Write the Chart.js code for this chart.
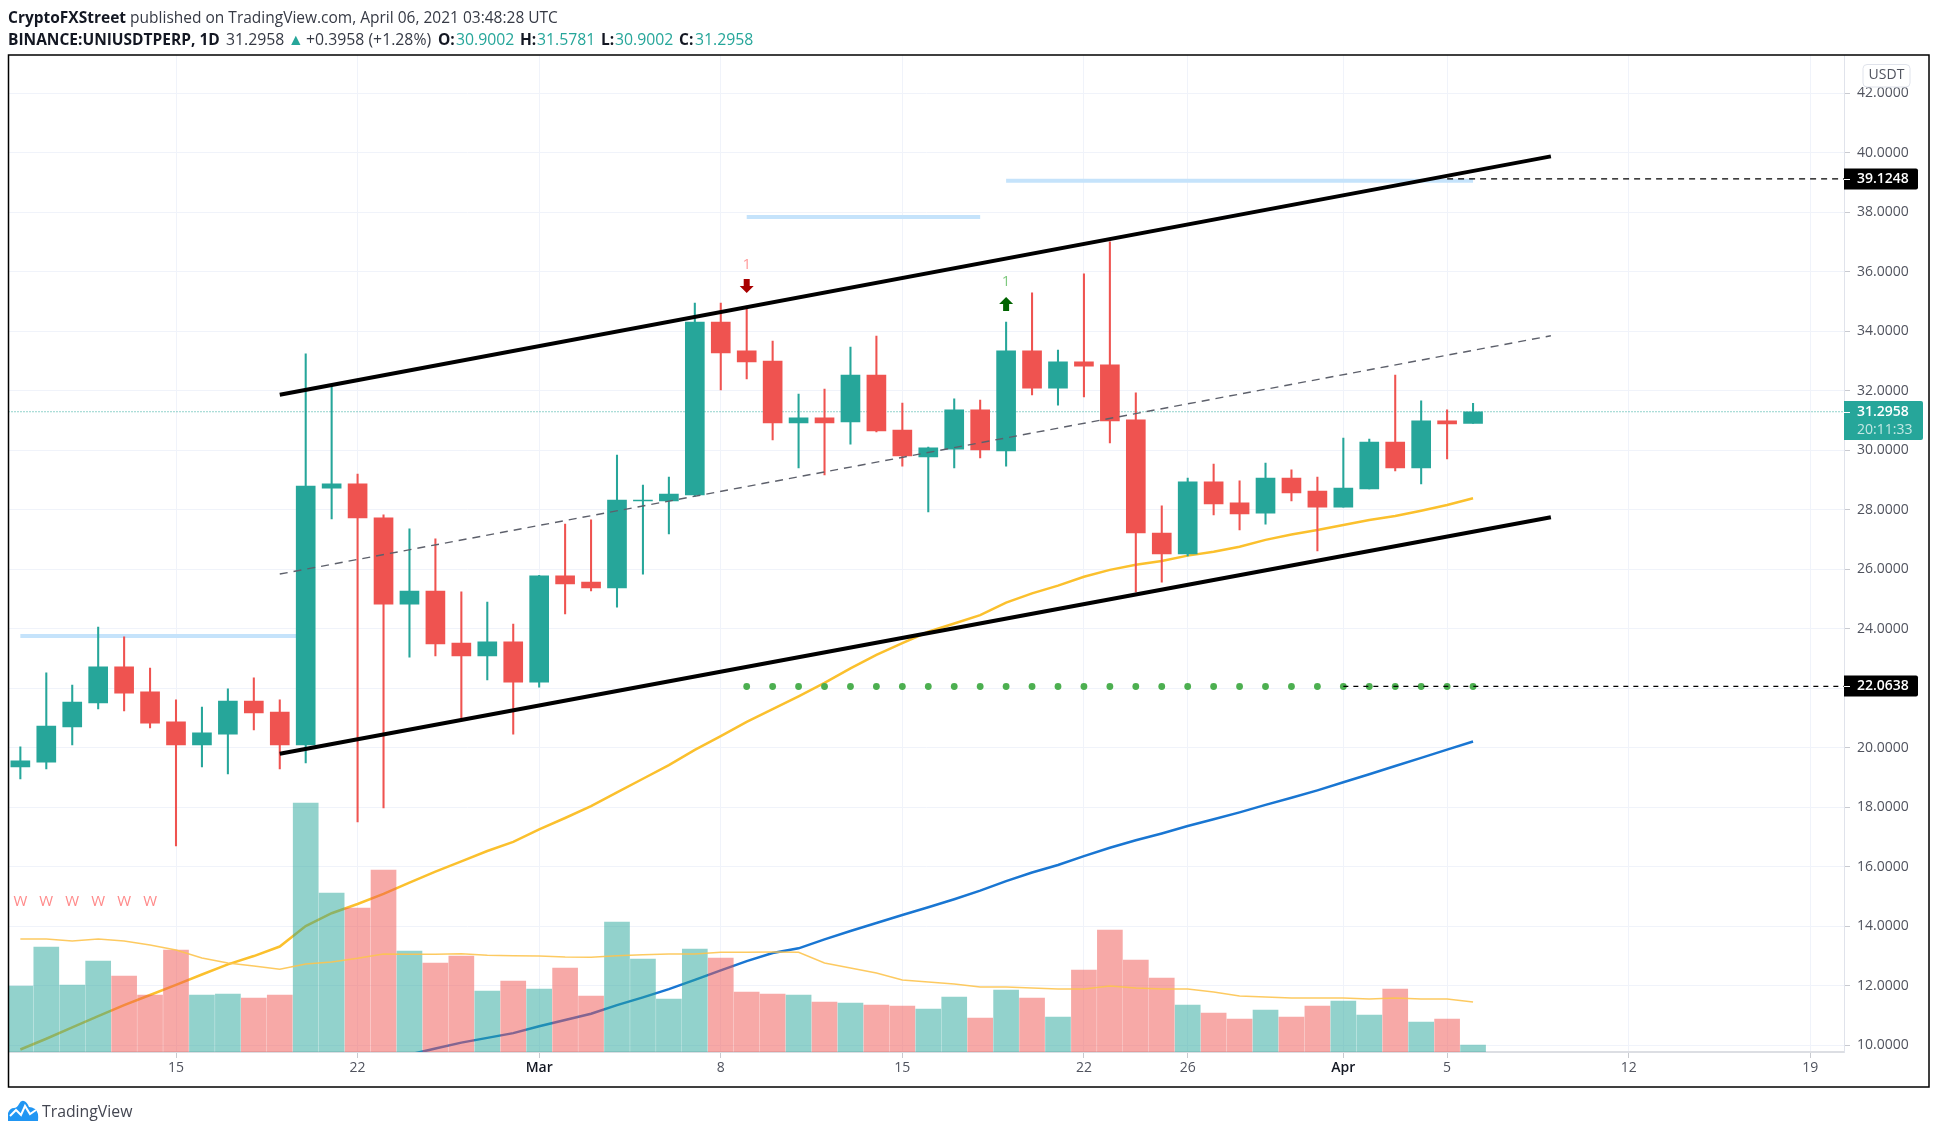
<!DOCTYPE html>
<html>
<head>
<meta charset="utf-8">
<script src="https://cdn.jsdelivr.net/npm/chart.js@4/dist/chart.umd.min.js"></script>
<style>
  html, body { margin: 0; padding: 0; background: #fff; width: 1938px; height: 1134px; overflow: hidden; }
  body { font-family: "Open Sans", sans-serif; color: #131722; position: relative; }
  canvas { position: absolute; left: 0; top: 0; }
  .head { position: absolute; left: 8px; font-size: 15.5px; white-space: nowrap; line-height: 20px; color: #363a45; }
  .head b { font-weight: 700; color: #131722; }
  .row span { position: absolute; top: 0; font-size: 15.8px; }
  .row span.up { color: #26a69a; }
  .row span.lab { font-size: 15.5px; font-weight: 700; color: #131722; }
  #brand { position: absolute; left: 42px; top: 1100px; font-size: 15.8px; line-height: 22px; color: #434651; }
  #logo { position: absolute; left: 8px; top: 1100px; }
</style>
</head>
<body>
<canvas id="myChart" width="1938" height="1134"></canvas>
<div class="head" style="top:7px"><b>CryptoFXStreet</b> published on TradingView.com, April 06, 2021 03:48:28 UTC</div>
<div class="head row" style="top:29px;left:0">
  <span class="lab" style="left:8px">BINANCE:UNIUSDTPERP, 1D</span>
  <span style="left:226px">31.2958</span><span class="up" style="left:288px">▲</span>
  <span style="left:306px">+0.3958 (+1.28%)</span>
  <span class="lab" style="left:438px">O:</span><span class="up" style="left:456px">30.9002</span>
  <span class="lab" style="left:520px">H:</span><span class="up" style="left:537px">31.5781</span>
  <span class="lab" style="left:601px">L:</span><span class="up" style="left:615px">30.9002</span>
  <span class="lab" style="left:679px">C:</span><span class="up" style="left:695px">31.2958</span>
</div>
<svg id="logo" width="31" height="21" viewBox="0 0 31 21">
  <path d="M0 21 L0 13 Q2 8 6 8 Q9 8 11 4 Q13 0 16 1 Q19 2 21 7 Q24 7 27 9 Q31 12 30 21 Z" fill="#2196f3"/>
  <path d="M2 16 L8 10 L13 15 L17 6 L22 14 L28 10" fill="none" stroke="#fff" stroke-width="2"/>
</svg>
<div id="brand">TradingView</div>
<script>
// Daily bars, Feb 9 to Apr 6 2021
const dates = ['Feb 9','Feb 10','Feb 11','Feb 12','Feb 13','Feb 14','Feb 15','Feb 16','Feb 17','Feb 18','Feb 19','Feb 20','Feb 21','Feb 22','Feb 23','Feb 24','Feb 25','Feb 26','Feb 27','Feb 28',
  'Mar 1','Mar 2','Mar 3','Mar 4','Mar 5','Mar 6','Mar 7','Mar 8','Mar 9','Mar 10','Mar 11','Mar 12','Mar 13','Mar 14','Mar 15','Mar 16','Mar 17','Mar 18','Mar 19','Mar 20','Mar 21','Mar 22','Mar 23','Mar 24','Mar 25','Mar 26','Mar 27','Mar 28','Mar 29','Mar 30','Mar 31',
  'Apr 1','Apr 2','Apr 3','Apr 4','Apr 5','Apr 6'];
const opens = [19.36,19.52,20.70,21.51,22.72,21.88,20.87,20.10,20.46,21.57,21.20,20.10,28.73,28.87,27.73,24.83,25.27,23.52,23.09,23.56,
  22.21,25.78,25.57,25.37,28.30,28.30,28.50,34.31,33.34,33.00,30.92,31.09,30.95,32.53,30.68,29.78,30.04,31.36,29.98,33.34,32.09,32.97,32.87,31.02,27.22,26.52,28.94,28.23,27.89,29.07,28.63,
  28.09,28.70,30.28,29.41,30.99,30.9002];
const highs = [20.03,22.52,22.11,24.06,23.73,22.68,21.61,21.37,21.98,22.35,21.61,33.24,32.14,29.20,27.83,27.36,27.02,25.24,24.90,24.16,
  25.80,27.52,27.66,29.84,28.83,29.10,34.95,34.95,34.85,33.67,31.89,32.06,33.47,33.84,31.59,30.11,31.73,31.69,34.31,35.29,33.37,35.93,37.01,31.93,28.13,29.07,29.54,28.97,29.57,29.34,29.10,
  30.41,30.38,32.53,31.66,31.36,31.5781];
const lows = [18.95,19.29,20.10,21.31,21.24,20.67,16.70,19.36,19.12,20.60,19.29,19.49,27.69,17.51,17.98,23.05,23.09,21.00,22.28,20.46,
  22.04,24.50,25.27,24.73,25.84,27.19,28.46,32.03,32.40,30.35,29.41,29.17,30.21,30.62,29.47,27.93,29.41,29.74,29.47,31.86,31.52,31.79,30.25,25.24,25.57,26.45,27.83,27.32,27.52,28.30,26.62,
  28.09,28.70,29.31,28.87,29.71,30.9002];
const closes = [19.56,20.73,21.54,22.72,21.84,20.83,20.10,20.50,21.57,21.17,20.10,28.80,28.87,27.73,24.83,25.27,23.49,23.09,23.56,22.21,
  25.78,25.51,25.37,28.33,28.33,28.53,34.31,33.27,32.97,30.92,31.09,30.92,32.53,30.65,29.81,30.08,31.36,30.01,33.34,32.09,32.97,32.83,30.99,27.22,26.52,28.94,28.20,27.86,29.07,28.57,28.09,
  28.73,30.28,29.41,30.99,30.89,31.2958];
const volumes = [66,105,67,91,76,57,102,57,58,54,57,249,159,144,182,101,89,96,61,71,63,84,56,130,93,53,103,94,60,58,57,
  50,49,47,46,43,55,34,62,54,35,82,122,92,74,47,39,33,42,35,46,51,37,63,30,33,7];
const volumeMa = [113,113,111,113,111,107,102,94,89,86,82.7,88,90,93.7,98,97.7,97.7,98.3,96.7,96.3,96,95,94.7,96.3,97.3,98,98,99.8,99.8,100,99.7,
  89,84,79,72,70,68,65,65,64,63,63,66,64,63,63,60,56,55,54,54,54,53,54,53,53,50];
const maYellow = [9.86,10.22,10.60,10.98,11.35,11.69,12.03,12.38,12.72,13.00,13.32,14.01,14.44,14.75,15.09,15.47,15.84,16.18,16.53,16.84,17.26,17.64,18.04,18.50,18.96,19.42,19.93,20.39,20.87,21.30,21.73,
  22.18,22.67,23.12,23.52,23.90,24.18,24.46,24.88,25.19,25.45,25.75,25.98,26.15,26.28,26.46,26.59,26.76,26.99,27.17,27.32,27.49,27.66,27.79,27.97,28.16,28.39];
const maBlueStart = 15; // Feb 24, before that it sits under the axis
const maBlue = [9.69,9.89,10.09,10.25,10.41,10.64,10.85,11.06,11.35,11.61,11.89,12.20,12.52,12.83,13.10,13.26,
  13.56,13.84,14.11,14.38,14.64,14.91,15.20,15.52,15.81,16.06,16.36,16.64,16.89,17.12,17.37,17.60,17.83,18.08,18.32,18.57,18.84,19.11,19.39,19.66,19.94,20.21];
const dotStart = 28;
const dotLevels = [22.06,22.06,22.06,22.06,22.06,22.06,22.06,22.06,22.06,22.06,22.06,22.06,22.06,22.06,22.06,22.06,22.06,22.06,22.06,22.06,22.06,22.06,22.06,22.06,22.06,22.06,22.06,22.06,22.06];

// Drawn lines: [start bar, value] / [end bar, value]
const channelTop = [[10, 31.87], [59, 39.88]];
const channelBottom = [[10, 19.80], [59, 27.75]];
const channelMid = [[10, 25.84], [59, 33.85]];
const rays = [[[0, 23.76], [11, 23.76]], [[28, 37.84], [37, 37.84]], [[38, 39.06], [56, 39.06]]];

const lastPrice = 31.2958;
const levelHigh = 39.1248;
const levelLow = 22.0638;
const levelHighStart = 55;
const levelLowStart = 51;

const priceTicks = [10,12,14,16,18,20,22,24,26,28,30,32,34,36,38,40,42];
const timeTicks = [6,13,20,27,34,41,45,51,55,62,69];
const timeLabels = ['15','22','Mar','8','15','22','26','Apr','5','12','19'];
const monthLabels = ['Mar','Apr'];

const wBars = [0,1,2,3,4,5];
const wLevel = 14.82;
const sellBar = 28, sellArrow = 35.52, sellText = 36.23;
const buyBar = 38, buyArrow = 34.92, buyText = 35.66;

const xMin = -0.457, xMax = 70.3;
const yMin = 9.775, yMax = 43.287;

const UP = '#26a69a', DOWN = '#ef5350';
const isUp = i => closes[i] >= opens[i];
const FONT = '"Open Sans", sans-serif';

function series(values, start) {
  return values.map((v, i) => ({ x: i + start, y: v }));
}
function seg(pts) {
  return pts.map(p => ({ x: p[0], y: p[1] }));
}
function lineSet(data, color, width, order, extra) {
  return Object.assign({ type: 'line', data: data, borderColor: color, borderWidth: width, pointRadius: 0, tension: 0, order: order, yAxisID: 'y' }, extra || {});
}

const datasets = [];
rays.forEach(r => datasets.push(lineSet(seg(r), '#c5e3fb', 4, 12)));
datasets.push(lineSet(series(maYellow, 0), '#fbc02d', 2.5, 10));
datasets.push(lineSet(series(maBlue, maBlueStart), '#1976d2', 2.5, 10));
datasets.push({
  type: 'bar', grouped: false, yAxisID: 'vol', order: 9, barThickness: 25, borderWidth: 0,
  data: series(volumes, 0),
  backgroundColor: volumes.map((v, i) => isUp(i) ? 'rgba(38,166,154,0.5)' : 'rgba(239,83,80,0.5)')
});
datasets.push(lineSet(series(volumeMa, 0), 'rgba(253,196,80,0.9)', 1.6, 8, { yAxisID: 'vol' }));
datasets.push(lineSet([{ x: xMin, y: lastPrice }, { x: xMax, y: lastPrice }], UP, 1, 7, { borderDash: [1, 2] }));
datasets.push({
  type: 'bar', grouped: false, yAxisID: 'y', order: 6, barThickness: 1.4, borderWidth: 0,
  data: dates.map((d, i) => ({ x: i, y: [lows[i], highs[i]] })),
  backgroundColor: dates.map((d, i) => isUp(i) ? UP : DOWN)
});
datasets.push({
  type: 'bar', grouped: false, yAxisID: 'y', order: 5, barThickness: 19, borderWidth: 0,
  data: dates.map((d, i) => ({ x: i, y: [opens[i], closes[i]] })),
  backgroundColor: dates.map((d, i) => isUp(i) ? UP : DOWN)
});
datasets.push(lineSet(series(dotLevels, dotStart), '#4caf50', 0, 4, { showLine: false, pointRadius: 3.4, pointBackgroundColor: '#4caf50', pointBorderWidth: 0 }));
datasets.push(lineSet([{ x: levelHighStart, y: levelHigh }, { x: xMax, y: levelHigh }], '#000', 1.3, 3, { borderDash: [6, 5] }));
datasets.push(lineSet([{ x: levelLowStart, y: levelLow }, { x: xMax, y: levelLow }], '#000', 1.3, 3, { borderDash: [5, 5] }));
datasets.push(lineSet(seg(channelMid), '#5d606b', 1.4, 2, { borderDash: [8, 6] }));
datasets.push(lineSet(seg(channelTop), '#000', 4, 1));
datasets.push(lineSet(seg(channelBottom), '#000', 4, 1));

function priceBox(ctx, x, y1, y2, w, color) {
  ctx.fillStyle = color;
  ctx.beginPath();
  ctx.roundRect(x, y1, w, y2 - y1, [0, 2, 2, 0]);
  ctx.fill();
}

// Frame, markers and the price tags that Chart.js has no element for
const overlay = {
  id: 'overlay',
  afterDraw(chart) {
    const { ctx, chartArea: a, scales: { x, y } } = chart;
    ctx.save();
    ctx.textBaseline = 'middle';

    ctx.fillStyle = '#ff8a8a';
    ctx.textAlign = 'center';
    ctx.font = '15px ' + FONT;
    wBars.forEach(b => ctx.fillText('W', x.getPixelForValue(b), y.getPixelForValue(wLevel)));

    ctx.fillStyle = '#ff9a9a';
    ctx.fillText('1', x.getPixelForValue(sellBar), y.getPixelForValue(sellText));
    ctx.fillStyle = '#7fc97f';
    ctx.fillText('1', x.getPixelForValue(buyBar), y.getPixelForValue(buyText));

    const sx = x.getPixelForValue(sellBar), sy = y.getPixelForValue(sellArrow);
    ctx.fillStyle = '#a80000';
    ctx.beginPath();
    ctx.moveTo(sx - 3, sy - 7); ctx.lineTo(sx + 3, sy - 7); ctx.lineTo(sx + 3, sy);
    ctx.lineTo(sx + 7, sy); ctx.lineTo(sx, sy + 7); ctx.lineTo(sx - 7, sy); ctx.lineTo(sx - 3, sy);
    ctx.closePath(); ctx.fill();

    const bx = x.getPixelForValue(buyBar), by = y.getPixelForValue(buyArrow);
    ctx.fillStyle = '#006400';
    ctx.beginPath();
    ctx.moveTo(bx - 3, by + 7); ctx.lineTo(bx + 3, by + 7); ctx.lineTo(bx + 3, by);
    ctx.lineTo(bx + 7, by); ctx.lineTo(bx, by - 7); ctx.lineTo(bx - 7, by); ctx.lineTo(bx - 3, by);
    ctx.closePath(); ctx.fill();

    // price tags
    const tx = a.right;
    const hy = Math.round(y.getPixelForValue(levelHigh));
    const ly = Math.round(y.getPixelForValue(levelLow));
    const py = Math.round(y.getPixelForValue(lastPrice));
    priceBox(ctx, tx, hy - 10.5, hy + 10.5, 74, '#000');
    priceBox(ctx, tx, ly - 10.5, ly + 10.5, 74, '#000');
    priceBox(ctx, tx, py - 11, py + 28, 79, UP);
    ctx.textAlign = 'left';
    ctx.font = '600 14px ' + FONT;
    ctx.fillStyle = '#fff';
    ctx.fillText(levelHigh.toFixed(4), tx + 13, hy);
    ctx.fillText(levelLow.toFixed(4), tx + 13, ly);
    ctx.fillText(lastPrice.toFixed(4), tx + 13, py);
    ctx.font = '14px ' + FONT;
    ctx.fillStyle = '#c4e8e4';
    ctx.fillText('20:11:33', tx + 13, py + 18);
    ctx.strokeStyle = '#fff';
    ctx.lineWidth = 1;
    [hy, ly, py].forEach(v => { ctx.beginPath(); ctx.moveTo(tx, v + 0.5); ctx.lineTo(tx + 6, v + 0.5); ctx.stroke(); });

    // currency badge
    ctx.fillStyle = '#fff';
    ctx.strokeStyle = '#e0e3eb';
    ctx.beginPath();
    ctx.roundRect(a.right + 19, 64.5, 47, 22.5, 4);
    ctx.fill(); ctx.stroke();
    ctx.fillStyle = '#50535e';
    ctx.textAlign = 'center';
    ctx.fillText('USDT', a.right + 42.5, 75.5);

    // outer frame
    ctx.strokeStyle = '#000';
    ctx.lineWidth = 1.5;
    ctx.strokeRect(a.left, a.top, 1929 - a.left, 1087 - a.top);
    ctx.restore();
  }
};

new Chart(document.getElementById('myChart').getContext('2d'), {
  type: 'bar',
  data: { datasets: datasets },
  plugins: [overlay],
  options: {
    responsive: false,
    animation: false,
    events: [],
    layout: { autoPadding: false, padding: { left: 8.5, top: 55, right: 9, bottom: 47 } },
    plugins: { legend: { display: false }, tooltip: { enabled: false } },
    scales: {
      x: {
        type: 'linear', min: xMin, max: xMax, offset: false,
        afterBuildTicks: s => { s.ticks = timeTicks.map(v => ({ value: v })); },
        afterFit: s => { s.height = 35; },
        grid: { offset: false, color: '#f0f3fa', tickColor: '#c8cad0', tickLength: 6 },
        border: { color: '#dcdee3', width: 2 },
        ticks: {
          autoSkip: false, maxRotation: 0, padding: 2,
          callback: v => timeLabels[timeTicks.indexOf(v)],
          font: c => ({ family: FONT, size: 14, weight: monthLabels.includes(timeLabels[c.index]) ? '600' : '400' }),
          color: c => monthLabels.includes(timeLabels[c.index]) ? '#131722' : '#50535e'
        }
      },
      y: {
        position: 'right', min: yMin, max: yMax,
        afterBuildTicks: s => { s.ticks = priceTicks.map(v => ({ value: v })); },
        afterFit: s => { s.width = 85; },
        grid: { color: '#f0f3fa', tickColor: '#c8cad0', tickLength: 6 },
        border: { color: '#e0e3eb', width: 1 },
        ticks: {
          padding: 7, color: '#50535e',
          font: { family: FONT, size: 14 },
          callback: v => v.toFixed(4)
        }
      },
      vol: { display: false, min: 0, max: 997 }
    }
  }
});
</script>
</body>
</html>
